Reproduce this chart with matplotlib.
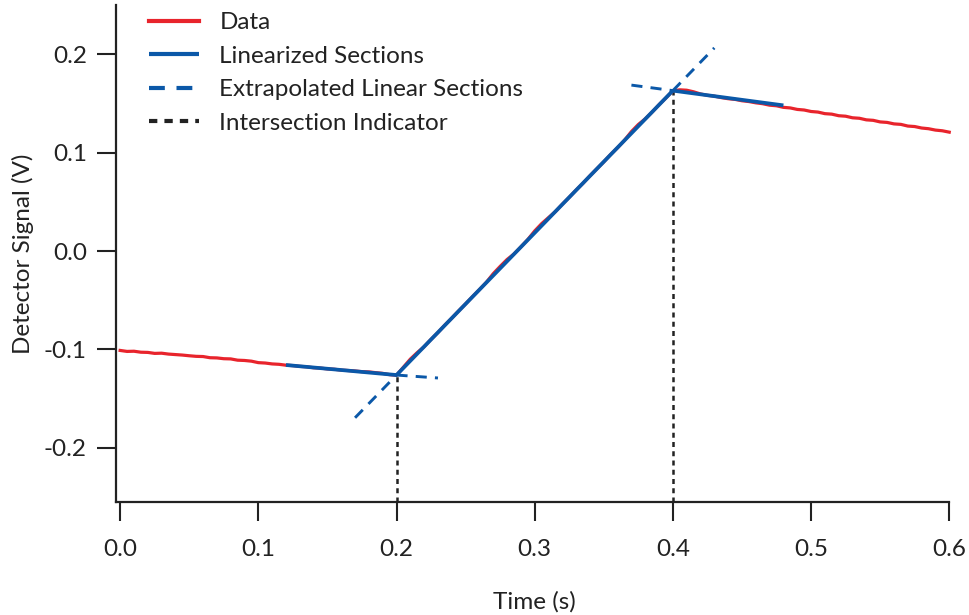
import numpy as np
import matplotlib
matplotlib.use("Agg")
import matplotlib.pyplot as plt

plt.rcParams['font.family'] = ['Lato', 'DejaVu Sans']
plt.rcParams['axes.unicode_minus'] = False

# ---- data ----
time = np.round(np.arange(0, 121) * 0.005, 3)
signal = [
    -0.1010, -0.1020, -0.1018, -0.1028, -0.1030, -0.1040, -0.1038, -0.1047, -0.1052, -0.1057,
    -0.1064, -0.1070, -0.1072, -0.1084, -0.1086, -0.1094, -0.1096, -0.1109, -0.1112, -0.1119,
    -0.1134, -0.1138, -0.1147, -0.1151, -0.1160, -0.1164, -0.1172, -0.1176, -0.1186, -0.1189,
    -0.1198, -0.1201, -0.1210, -0.1214, -0.1219, -0.1226, -0.1228, -0.1236, -0.1243, -0.1256,
    -0.1262,
    -0.1180, -0.1098, -0.1032, -0.0972, -0.0897, -0.0828, -0.0752, -0.0682, -0.0608, -0.0537,
    -0.0463, -0.0392, -0.0318, -0.0230, -0.0156, -0.0086, -0.0030, 0.0042, 0.0117, 0.0204,
    0.0278, 0.0340, 0.0401, 0.0476, 0.0546, 0.0620, 0.0689, 0.0765, 0.0836, 0.0906,
    0.0982, 0.1050, 0.1126, 0.1214, 0.1286, 0.1343, 0.1412, 0.1487, 0.1556, 0.1628,
    0.1638, 0.1634, 0.1618, 0.1596, 0.1582, 0.1574, 0.1559, 0.1548, 0.1541, 0.1527,
    0.1519, 0.1506, 0.1497, 0.1482, 0.1476, 0.1460, 0.1454, 0.1439, 0.1433, 0.1418,
    0.1412, 0.1396, 0.1391, 0.1375, 0.1370, 0.1354, 0.1349, 0.1333, 0.1328, 0.1312,
    0.1307, 0.1292, 0.1287, 0.1270, 0.1265, 0.1250, 0.1243, 0.1229, 0.1222, 0.1208,
]

lin_t = [[0.12, 0.20], [0.20, 0.40], [0.40, 0.48]]
lin_v = [[-0.1158, -0.1260], [-0.1260, 0.1630], [0.1630, 0.1480]]

ext_t = [[0.20, 0.23], [0.17, 0.20], [0.40, 0.43], [0.37, 0.40]]
ext_v = [[-0.1260, -0.1290], [-0.1694, -0.1260], [0.1630, 0.2064], [0.1686, 0.1630]]

intersect_t = [0.20, 0.40]
intersect_v = [-0.1260, 0.1630]

xticks = [0.0, 0.1, 0.2, 0.3, 0.4, 0.5, 0.6]
yticks = [-0.2, -0.1, 0.0, 0.1, 0.2]
ylim = (-0.255, 0.25)

RED = '#e8242c'
BLUE = '#0b58a8'
INK = '#222222'
FS = 17.5

fig = plt.figure(figsize=(9.7, 6.15), dpi=100)
ax = fig.add_axes([116/970, 1 - 502/615, (952 - 116)/970, (502 - 5)/615])

ax.plot(time, signal, color=RED, lw=2.3, label='Data', zorder=2)
for i, (tt, vv) in enumerate(zip(lin_t, lin_v)):
    ax.plot(tt, vv, color=BLUE, lw=2.7, solid_capstyle='butt', zorder=3,
            label='Linearized Sections' if i == 0 else None)
for i, (tt, vv) in enumerate(zip(ext_t, ext_v)):
    ax.plot(tt, vv, color=BLUE, lw=2.1, linestyle=(0, (3.8, 2.8)), zorder=3,
            label='Extrapolated Linear Sections' if i == 0 else None)
for i, (tt, vv) in enumerate(zip(intersect_t, intersect_v)):
    ax.plot([tt, tt], [ylim[0], vv], color=INK, lw=1.8, linestyle=(0, (2.0, 1.7)),
            zorder=1, label='Intersection Indicator' if i == 0 else None)

ax.set_xlim(-0.003, 0.602)
ax.set_ylim(*ylim)
ax.set_xticks(xticks)
ax.set_xticklabels([f'{v:.1f}' for v in xticks])
ax.set_yticks(yticks)
ax.set_yticklabels([f'{v:.1f}' for v in yticks])

for s in ['top', 'right']:
    ax.spines[s].set_visible(False)
for s in ['left', 'bottom']:
    ax.spines[s].set_linewidth(1.6)
    ax.spines[s].set_color(INK)
ax.spines['bottom'].set_bounds(-0.003, 0.6)

ax.tick_params(axis='both', direction='out', length=14, width=1.5, colors=INK,
               labelsize=FS, labelcolor=INK)
ax.tick_params(axis='x', pad=13)
ax.tick_params(axis='y', pad=7)

ax.set_xlabel('Time (s)', fontsize=FS, color=INK, labelpad=22)
ax.set_ylabel('Detector Signal (V)', fontsize=FS, color=INK, labelpad=7)

leg = ax.legend(loc='upper left', bbox_to_anchor=(149/970, 1 - 12/615),
                bbox_transform=fig.transFigure, frameon=False, borderpad=0,
                borderaxespad=0, fontsize=FS, handlelength=2.05, handletextpad=0.85,
                labelspacing=0.52)
for line in leg.get_lines():
    line.set_linewidth(3.0)
for t in leg.get_texts():
    t.set_color(INK)

fig.savefig('out.png', dpi=100)
